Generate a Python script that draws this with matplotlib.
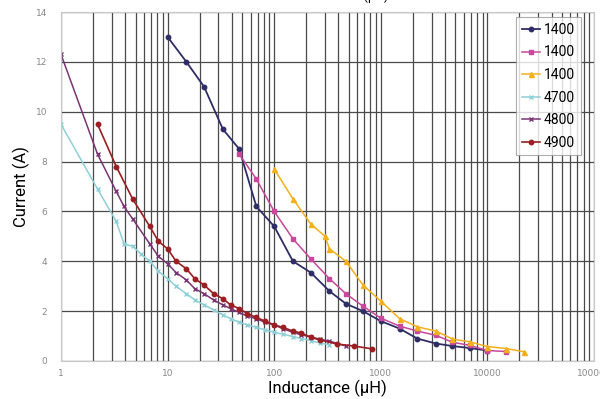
import matplotlib
matplotlib.use("Agg")
import matplotlib.pyplot as plt
from matplotlib.ticker import FixedLocator, LogLocator, NullFormatter

# series data (inductance in uH, current in A)
navy_L = [10, 15, 22, 33, 47, 68, 100, 150, 220, 330, 470, 680, 1000, 1500, 2200, 3300, 4700, 6800, 10000]
navy_I = [13.0, 12.0, 11.0, 9.3, 8.5, 6.2, 5.4, 4.0, 3.55, 2.8, 2.3, 2.0, 1.6, 1.3, 0.9, 0.7, 0.6, 0.52, 0.42]

pink_L = [47, 68, 100, 150, 220, 330, 470, 680, 1000, 1500, 2200, 3300, 4700, 6800, 10000, 15000]
pink_I = [8.3, 7.3, 6.0, 4.9, 4.1, 3.3, 2.7, 2.2, 1.72, 1.4, 1.2, 1.03, 0.75, 0.63, 0.42, 0.38]

gold_L = [100, 150, 220, 300, 330, 470, 680, 1000, 1500, 2200, 3300, 4700, 6800, 10000, 15000, 22000]
gold_I = [7.7, 6.5, 5.5, 5.0, 4.5, 4.0, 3.05, 2.4, 1.7, 1.37, 1.2, 0.88, 0.77, 0.58, 0.5, 0.37]

cyan_L = [1, 2.2, 3.3, 3.9, 4.7, 5.6, 6.8, 8.2, 10, 12, 15, 18, 22, 27, 33, 39, 47, 56, 68, 82,
          100, 120, 150, 180, 220, 270, 330]
cyan_I = [9.5, 6.9, 5.6, 4.7, 4.6, 4.3, 4.0, 3.6, 3.3, 3.0, 2.7, 2.45, 2.25, 2.05, 1.85, 1.7, 1.55, 1.45,
          1.35, 1.25, 1.15, 1.08, 0.98, 0.9, 0.82, 0.72, 0.65]

plum_L = [1, 2.2, 3.3, 3.9, 4.7, 6.8, 8.2, 10, 12, 15, 18, 22, 27, 33, 39, 47, 56, 68, 82, 100,
          120, 150, 180, 220, 270, 330, 470]
plum_I = [12.3, 8.3, 6.8, 6.2, 5.7, 4.7, 4.2, 3.9, 3.55, 3.25, 2.9, 2.7, 2.45, 2.25, 2.1, 1.95, 1.8,
          1.7, 1.55, 1.45, 1.3, 1.15, 1.05, 0.97, 0.87, 0.8, 0.6]

red_L = [2.2, 3.3, 4.7, 6.8, 8.2, 10, 12, 15, 18, 22, 27, 33, 39, 47, 56, 68, 82, 100, 120, 150,
         180, 220, 270, 390, 560, 820]
red_I = [9.5, 7.8, 6.5, 5.4, 4.8, 4.5, 4.0, 3.7, 3.3, 3.05, 2.7, 2.5, 2.25, 2.1, 1.9, 1.75, 1.6, 1.45,
         1.35, 1.2, 1.12, 0.95, 0.84, 0.68, 0.6, 0.49]

labels = ["1400", "1400", "1400", "4700", "4800", "4900"]

plt.rcParams['font.family'] = ['Roboto', 'DejaVu Sans']

fig = plt.figure(figsize=(6, 3.99), dpi=100)
ax = fig.add_axes([61/600, 1 - 361/399, (594-61)/600, (361-12)/399])

ax.plot(navy_L, navy_I, color='#2f2d66', marker='o', ms=3.2, lw=1.3, label=labels[0])
ax.plot(pink_L, pink_I, color='#c8489c', marker='s', ms=3.2, lw=1.1, label=labels[1])
ax.plot(gold_L, gold_I, color='#f4b01c', marker='^', ms=3.6, lw=1.1, label=labels[2])
ax.plot(cyan_L, cyan_I, color='#8fd0d8', marker='x', ms=2.5, lw=1.1, label=labels[3])
ax.plot(plum_L, plum_I, color='#7a3474', marker='x', ms=3, lw=1.1, label=labels[4])
ax.plot(red_L, red_I, color='#9a1e22', marker='o', ms=3.2, lw=1.2, label=labels[5])

ax.set_xscale('log')
ax.set_xlim(1, 100000)
ax.set_ylim(0, 14)
ax.xaxis.set_major_locator(FixedLocator([1, 10, 100, 1000, 10000, 100000]))
ax.set_xticklabels(["1", "10", "100", "1000", "10000", "100000"])
ax.xaxis.set_minor_locator(LogLocator(base=10, subs=range(2, 10), numticks=20))
ax.xaxis.set_minor_formatter(NullFormatter())
ax.set_yticks(range(0, 15, 2))

ax.grid(True, which='both', axis='x', color='#4a4a4a', lw=0.9)
ax.grid(True, which='major', axis='y', color='#4a4a4a', lw=0.9)
ax.set_axisbelow(True)

for s in ax.spines.values():
    s.set_color('#c8c8c8')
    s.set_linewidth(0.8)

ax.tick_params(axis='x', which='both', length=0, colors='#888888', pad=6)
ax.tick_params(axis='y', which='both', length=0, colors='#888888', pad=10)
for t in ax.get_xticklabels() + ax.get_yticklabels():
    t.set_family(['DejaVu Sans'])
    t.set_fontsize(6.5)

ax.set_xlabel("Inductance (µH)", fontsize=12, labelpad=1)
ax.set_ylabel("Current (A)", fontsize=12, labelpad=4)

# title at the top, cropped by the figure edge in the reference
fig.text(388/600, 1 - 3/399, "Inductance (µH)", fontsize=9, ha='right', va='bottom')

leg = ax.legend(loc='upper right', bbox_to_anchor=(0.975, 0.985), fontsize=10,
                frameon=True, fancybox=False, handlelength=1.3, handletextpad=0.3,
                borderpad=0.4, labelspacing=0.62, borderaxespad=0)
leg.get_frame().set_edgecolor('#999999')
leg.get_frame().set_linewidth(0.8)

fig.savefig("out.png", dpi=100)
